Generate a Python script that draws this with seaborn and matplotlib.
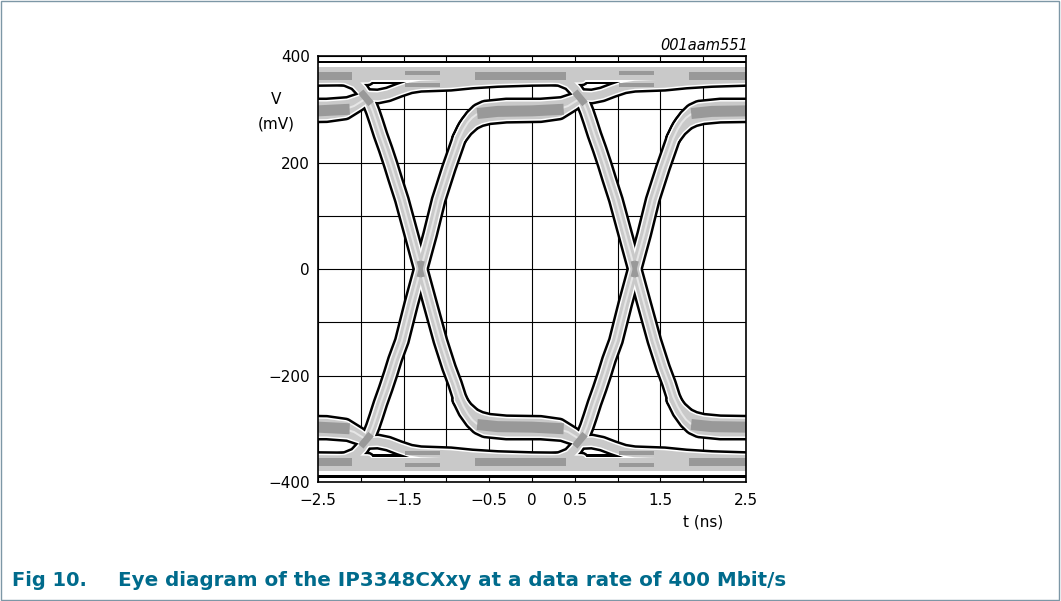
import matplotlib
matplotlib.use("Agg")
import matplotlib.pyplot as plt
import matplotlib.patches as mpatches
import pandas as pd
import seaborn as sns

# crossing points of the eye (ns); -3.8 is the one just off the left edge
CROSSINGS_NS = [-3.8, -1.3, 1.2]

# traces of one unit interval, time relative to its crossing (ns) and level (mV)
FALL_TAU = [-0.64, -0.60, -0.56, -0.52, -0.47, -0.41, -0.35, -0.30, -0.22, -0.11,
            0.00, 0.11, 0.23, 0.33, 0.40, 0.45, 0.50, 0.55, 0.60, 0.65, 0.72,
            0.80, 1.20, 1.55, 1.72, 1.82, 1.88]
FALL_MV = [325, 312, 296, 277, 252, 225, 196, 170, 130, 65,
           0, -65, -135, -185, -215, -240, -258, -272, -283, -290, -295,
           -298, -300, -298, -306, -316, -322]
RISE_TAU = [-0.64, -0.60, -0.56, -0.52, -0.47, -0.41, -0.35, -0.30, -0.22, -0.11,
            0.00, 0.11, 0.21, 0.33, 0.40, 0.45, 0.50, 0.55, 0.60, 0.65, 0.72,
            0.80, 1.20, 1.55, 1.72, 1.82, 1.88]
RISE_MV = [-325, -312, -296, -277, -252, -225, -196, -170, -135, -65,
           0, 65, 130, 190, 222, 245, 262, 275, 284, 290, 294,
           296, 295, 297, 306, 316, 322]

B_HI_TAU = [0.45, 0.52, 0.60, 0.67, 0.75, 1.00, 1.40, 1.65, 1.78, 1.88]
B_HI_MV = [245, 268, 286, 297, 303, 307, 307, 310, 317, 322]
B_LO_TAU = [0.45, 0.53, 0.62, 0.70, 0.80, 1.00, 1.40, 1.62, 1.78, 1.88]
B_LO_MV = [245, 262, 275, 281, 285, 288, 289, 294, 310, 322]
BL_HI_MV = [-245, -268, -286, -297, -303, -307, -307, -310, -317, -322]
BL_LO_MV = [-245, -262, -275, -281, -285, -288, -289, -294, -310, -322]

B_TO_A_TAU = [-0.64, -0.50, -0.38, -0.25, -0.12, 0.00, 0.35, 0.60, 0.90, 1.30, 1.88]
B_TO_A_MV = [325, 324, 328, 336, 343, 346, 348, 352, 355, 357, 358]
BL_TO_A_MV = [-325, -324, -328, -336, -343, -346, -348, -352, -355, -357, -358]
A_FALL_TAU = [-1.15, -0.88, -0.76, -0.69, -0.64]
A_FALL_MV = [362, 357, 349, 337, 325]
A_RISE_MV = [-362, -357, -349, -337, -325]

# settled levels, whole window (ns, mV)
A_T = [-2.5, 2.5]
A_HI_MV = [372, 372]
A_MID_MV = [362, 362]
AL_HI_MV = [-372, -372]
AL_MID_MV = [-362, -362]

# dense (dark grey) parts of one unit interval
DARK_A_TAU = [0.63, 1.70]
DARK_A_MV = [362, 362]
DARK_AL_MV = [-362, -362]
DARK_A2_TAU = [-0.18, 0.23]
DARK_A2_HI_MV = [369, 369]
DARK_A2_LO_MV = [346, 346]
DARK_AL2_HI_MV = [-369, -369]
DARK_AL2_LO_MV = [-346, -346]
DARK_B_TAU = [0.66, 0.90, 1.30, 1.67]
DARK_B_MV = [292, 296, 297, 300]
DARK_BL_MV = [-292, -296, -297, -300]
DARK_NODE_TAU = [-0.70, -0.58]
DARK_NODE_MV = [333, 310]
DARK_NODEL_MV = [-333, -310]
DARK_X_TAU = [-0.025, 0.025]
DARK_XF_MV = [15, -15]
DARK_XR_MV = [-15, 15]

X_TICKS = [-2.5, -1.5, -0.5, 0, 0.5, 1.5, 2.5]
X_GRID = [-2, -1, 1, 2]
Y_TICKS = [-400, -200, 0, 200, 400]
Y_GRID = [-300, -100, 100, 300]

PX = 0.72  # points per pixel at dpi 100
LIGHT = "#c9c9c9"
DARK = "#999999"
CAPTION = "#006b8c"

# stroke widths in pixels: outline, white gap, grey band
STYLE = {
    "edge": (16, 11, 8),
    "trace": (16, 11, 8),
    "band": (21, 16, 8),
}

sns.set_theme(style="white")
plt.rcParams["font.family"] = ["DejaVu Sans"]
plt.rcParams["text.color"] = "black"

rows = []


def add(name, tau, mv, kind, tile=True):
    offsets = CROSSINGS_NS if tile else [0.0]
    for c in offsets:
        for a, b in zip(tau, mv):
            rows.append({"trace": f"{name}@{c}", "kind": kind,
                         "t": a + c, "v": b})


add("fall", FALL_TAU, FALL_MV, "edge")
add("rise", RISE_TAU, RISE_MV, "edge")
add("b_hi", B_HI_TAU, B_HI_MV, "trace")
add("b_lo", B_LO_TAU, B_LO_MV, "trace")
add("bl_hi", B_HI_TAU, BL_HI_MV, "trace")
add("bl_lo", B_LO_TAU, BL_LO_MV, "trace")
add("b_to_a", B_TO_A_TAU, B_TO_A_MV, "trace")
add("bl_to_a", B_TO_A_TAU, BL_TO_A_MV, "trace")
add("a_fall", A_FALL_TAU, A_FALL_MV, "trace")
add("a_rise", A_FALL_TAU, A_RISE_MV, "trace")
add("a_hi", A_T, A_HI_MV, "band", tile=False)
add("al_hi", A_T, AL_HI_MV, "band", tile=False)
add("a_mid", A_T, A_MID_MV, "trace", tile=False)
add("al_mid", A_T, AL_MID_MV, "trace", tile=False)

add("dA", DARK_A_TAU, DARK_A_MV, "dark8")
add("dAL", DARK_A_TAU, DARK_AL_MV, "dark8")
add("dA2h", DARK_A2_TAU, DARK_A2_HI_MV, "dark4")
add("dA2l", DARK_A2_TAU, DARK_A2_LO_MV, "dark4")
add("dAL2h", DARK_A2_TAU, DARK_AL2_HI_MV, "dark4")
add("dAL2l", DARK_A2_TAU, DARK_AL2_LO_MV, "dark4")
add("dB", DARK_B_TAU, DARK_B_MV, "dark11")
add("dBL", DARK_B_TAU, DARK_BL_MV, "dark11")
add("dN", DARK_NODE_TAU, DARK_NODE_MV, "dark7")
add("dNL", DARK_NODE_TAU, DARK_NODEL_MV, "dark7")
add("dXf", DARK_X_TAU, DARK_XF_MV, "dark4")
add("dXr", DARK_X_TAU, DARK_XR_MV, "dark4")

df = pd.DataFrame(rows)

fig = plt.figure(figsize=(10.61, 6.01), dpi=100)
ax = fig.add_axes([0.2997, 0.198, 0.4034, 0.7088])


def layer(data, width_px, color, z, cap="round"):
    sns.lineplot(data=data, x="t", y="v", units="trace", estimator=None,
                 sort=False, color=color, linewidth=width_px * PX, ax=ax,
                 legend=False, zorder=z, solid_capstyle=cap,
                 solid_joinstyle="round")


# outline, white gap, grey band, light centre, then the dense cores
for step, color, z in [(0, "black", 2), (1, "white", 3), (2, LIGHT, 4)]:
    for kind, widths in STYLE.items():
        layer(df[df["kind"] == kind], widths[step], color, z)
layer(df[df["kind"] == "edge"], 2, "#e6e6e6", 4.5)
for kind, w in [("dark8", 8), ("dark4", 4), ("dark11", 11), ("dark7", 7)]:
    layer(df[df["kind"] == kind], w, DARK, 5, cap="butt")

ax.set_xlim(-2.5, 2.5)
ax.set_ylim(-400, 400)
ax.set_xticks(X_TICKS)
ax.set_xticklabels(["\u22122.5", "\u22121.5", "\u22120.5", "0", "0.5", "1.5", "2.5"])
ax.set_xticks(X_GRID, minor=True)
ax.set_yticks(Y_TICKS)
ax.set_yticklabels(["\u2212400", "\u2212200", "0", "200", "400"])
ax.set_yticks(Y_GRID, minor=True)
ax.grid(True, which="both", color="black", linewidth=0.8)
ax.set_axisbelow(True)
ax.tick_params(which="both", length=0, labelsize=11, colors="black")
ax.tick_params(axis="x", pad=8)
ax.tick_params(axis="y", pad=6)
ax.set_xlabel("")
ax.set_ylabel("")
for sp in ax.spines.values():
    sp.set_color("black")
    sp.set_linewidth(1.2)
    sp.set_zorder(10)

fig.text(276 / 1061, 1 - 100 / 601, "V", ha="center", va="center", fontsize=11)
fig.text(276 / 1061, 1 - 124 / 601, "(mV)", ha="center", va="center", fontsize=11)
fig.text(703 / 1061, 1 - 522 / 601, "t (ns)", ha="center", va="center", fontsize=11)
fig.text(748 / 1061, 1 - 45 / 601, "001aam551", ha="right", va="center",
         fontsize=10.5, style="italic")
fig.text(12 / 1061, 1 - 581 / 601, "Fig 10.", ha="left", va="center",
         fontsize=14, fontweight="bold", color=CAPTION)
fig.text(118 / 1061, 1 - 581 / 601,
         "Eye diagram of the IP3348CXxy at a data rate of 400 Mbit/s",
         ha="left", va="center", fontsize=14.3, fontweight="bold", color=CAPTION)

fig.patches.append(mpatches.Rectangle((0.001, 0.001), 0.997, 0.997,
                                      transform=fig.transFigure, fill=False,
                                      edgecolor="#7d97a6", linewidth=1.0))

fig.savefig("out.png", dpi=100)
